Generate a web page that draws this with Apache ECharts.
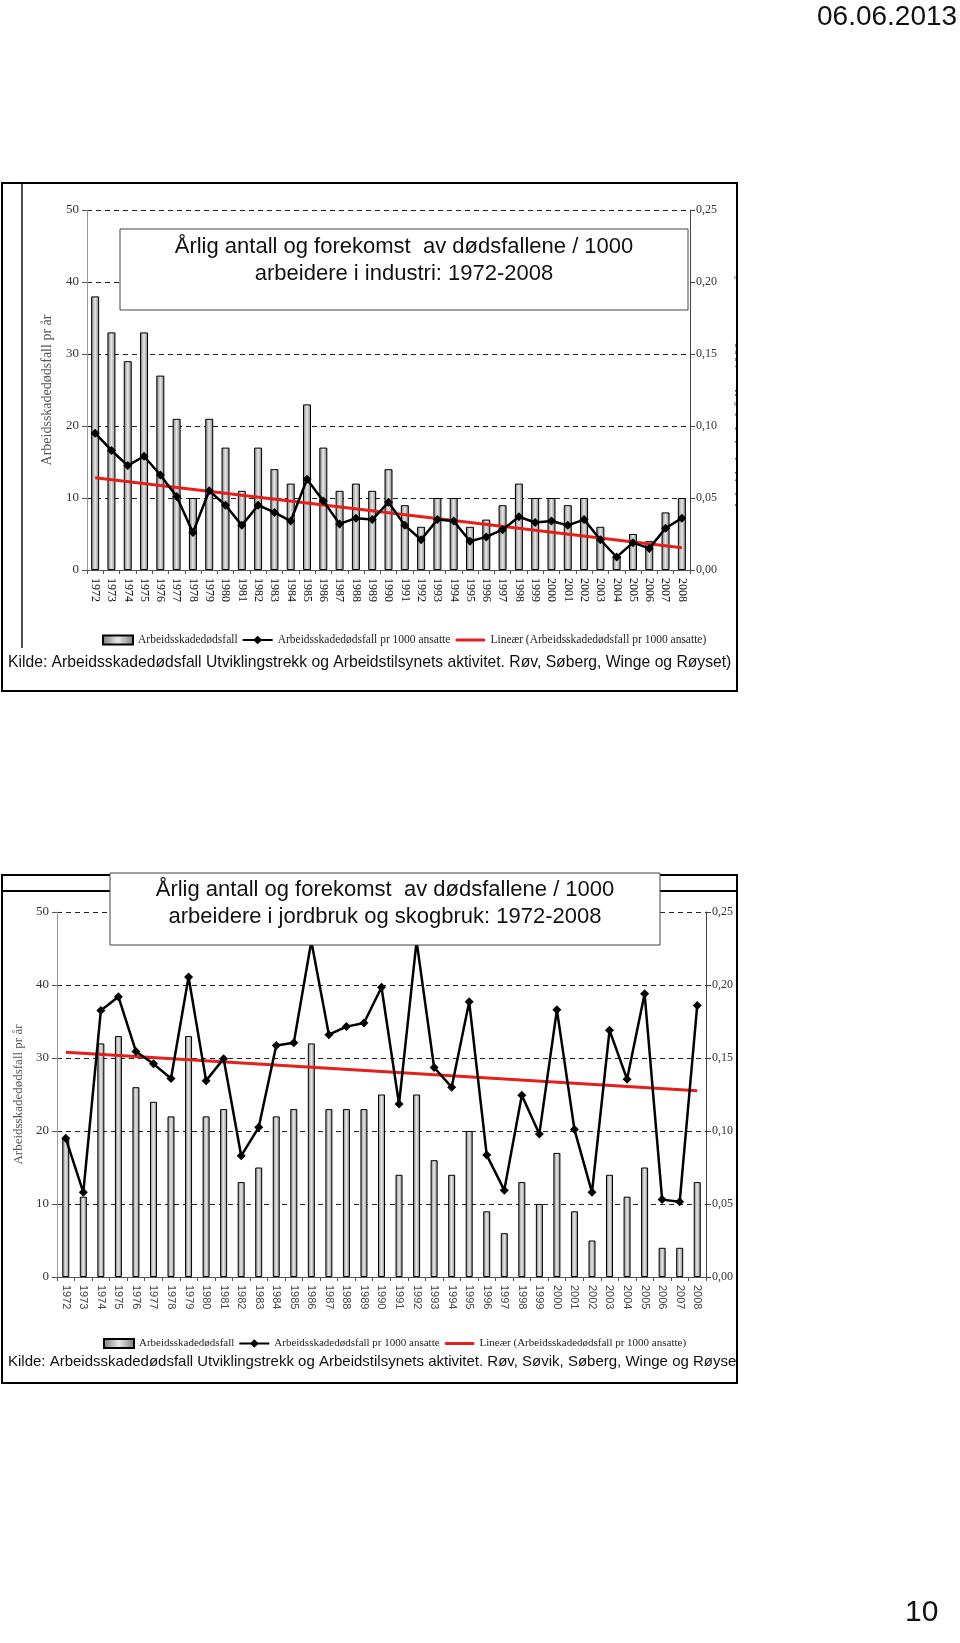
<!DOCTYPE html>
<html><head><meta charset="utf-8">
<script src="https://cdn.jsdelivr.net/npm/echarts@6/dist/echarts.min.js"></script>
<style>html,body{margin:0;padding:0;background:#fff}#c{width:960px;height:1643px}</style>
</head><body><div id="c"></div>
<script>
const years = ['1972','1973','1974','1975','1976','1977','1978','1979','1980','1981','1982','1983','1984','1985','1986','1987','1988','1989','1990','1991','1992','1993','1994','1995','1996','1997','1998','1999','2000','2001','2002','2003','2004','2005','2006','2007','2008'];

// Industri
const industriDeaths = [38,33,29,33,27,21,10,21,17,11,17,14,12,23,17,11,12,11,14,9,6,10,10,6,7,9,12,10,10,9,10,6,2,5,4,8,10];
const industriRate = [0.095,0.083,0.0725,0.079,0.066,0.051,0.026,0.055,0.045,0.031,0.045,0.040,0.034,0.063,0.048,0.032,0.036,0.035,0.047,0.031,0.021,0.035,0.034,0.020,0.023,0.028,0.037,0.033,0.034,0.031,0.035,0.021,0.009,0.019,0.015,0.029,0.036];
const industriTrend = [0.064, 0.0155]; // endpoints 1972, 2008

// Jordbruk og skogbruk
const jordDeaths = [19,11,32,33,26,24,22,33,22,23,13,15,22,23,32,23,23,23,25,14,25,16,14,20,9,6,13,10,17,9,5,14,11,15,4,4,13];
const jordRate = [0.095,0.058,0.1825,0.192,0.1545,0.146,0.136,0.2055,0.1345,0.1495,0.083,0.1025,0.1585,0.1605,0.23,0.166,0.1715,0.174,0.1985,0.1185,0.23,0.1435,0.13,0.1885,0.0835,0.0595,0.1245,0.098,0.183,0.101,0.058,0.169,0.1355,0.194,0.053,0.0515,0.186];
const jordTrend = [0.154, 0.1275];

const leftTicks = {min:0, max:50, interval:10};
const rightTicks = {min:0, max:0.25, interval:0.05};

const nameBar = 'Arbeidsskadedødsfall';
const nameLine = 'Arbeidsskadedødsfall pr 1000 ansatte';
const nameTrend = 'Lineær (Arbeidsskadedødsfall pr 1000 ansatte)';

const SERIF = '"Liberation Serif","DejaVu Serif",serif';
const SANS = '"Liberation Sans",Arial,sans-serif';

function trendData(t){ return years.map((y,i)=> i===0 ? t[0] : (i===years.length-1 ? t[1] : null)); }
const barColor = new echarts.graphic.LinearGradient(0,0,1,0,[
  {offset:0,color:'#7a7a7a'},{offset:0.5,color:'#e8e8e8'},{offset:1,color:'#7a7a7a'}]);
const fmtR = v => v.toFixed(2).replace('.', ',');

const iconLine = 'path://M0,0L0.01,0ZM0,3.4H30V5.6H0ZM15,0.2L19.4,4.5L15,8.8L10.6,4.5ZM0,9L0.01,9Z';
const iconTrend = 'path://M0,0L0.01,0ZM1.5,3H28.5A1.5,1.5,0,0,1,28.5,6H1.5A1.5,1.5,0,0,1,1.5,3ZM0,9L0.01,9Z';

function xAxisCfg(gi, serifLabels){
  return {type:'category', gridIndex:gi, data:years, boundaryGap:true,
    axisLine:{lineStyle:{color:'#555',width:1}},
    axisTick:{show:true, interval:0, length:4, lineStyle:{color:'#555'}},
    axisLabel:{interval:0, rotate:-90, margin:8,
      fontFamily: serifLabels?SERIF:SANS, fontSize: serifLabels?12:11,
      color: serifLabels?'#111':'#444'}};
}
function yLeft(gi, nameGap, fs){
  return {type:'value', gridIndex:gi, min:leftTicks.min, max:leftTicks.max, interval:leftTicks.interval,
    name:'Arbeidsskadedødsfall pr år', nameLocation:'middle', nameRotate:90, nameGap:nameGap,
    nameTextStyle:{fontFamily:SERIF, fontSize:fs, color:'#555'},
    axisLine:{show:true, lineStyle:{color:'#999'}},
    axisTick:{show:true, length:5, lineStyle:{color:'#555'}},
    axisLabel:{fontFamily:SERIF, fontSize:13, color:'#333', margin:8},
    splitLine:{show:true, lineStyle:{color:'#222', type:[5,4], width:1}}};
}
function yRight(gi, withName){
  const a = {type:'value', gridIndex:gi, position:'right', min:rightTicks.min, max:rightTicks.max, interval:rightTicks.interval,
    axisLine:{show:true, lineStyle:{color:'#444'}},
    axisTick:{show:true, length:5, lineStyle:{color:'#444'}},
    axisLabel:{fontFamily:SERIF, fontSize:12, color:'#333', margin:6, formatter:fmtR},
    splitLine:{show:false}};
  if (withName){
    a.name='Arbeidsskadedødsfall pr 1000 ansatte pr år'; a.nameLocation='middle'; a.nameRotate=90; a.nameGap=44;
    a.nameTextStyle={fontFamily:SERIF, fontSize:14, color:'#555'};
  }
  return a;
}
function seriesFor(gi, deaths, rate, trend, bw){
  return [
    {name:nameBar, type:'bar', xAxisIndex:gi, yAxisIndex:gi*2, data:deaths, barWidth:bw,
      itemStyle:{color:barColor, borderColor:'#000', borderWidth:1}, z:2},
    {name:nameLine, type:'line', xAxisIndex:gi, yAxisIndex:gi*2+1, data:rate,
      symbol:'diamond', symbolSize:9, lineStyle:{color:'#000', width:2.5}, itemStyle:{color:'#000'}, z:4},
    {name:nameTrend, type:'line', xAxisIndex:gi, yAxisIndex:gi*2+1, data:trendData(trend), connectNulls:true,
      symbol:'none', lineStyle:{color:'#e3201b', width:3}, itemStyle:{color:'#e3201b'}, z:3}
  ];
}
function legendCfg(left, top, fs, gap){
  return {left:left, top:top, itemWidth:30, itemHeight:9, itemGap:gap, selectedMode:false,
    data:[{name:nameBar, icon:'rect'}, {name:nameLine, icon:iconLine}, {name:nameTrend, icon:iconTrend}],
    textStyle:{fontFamily:SERIF, fontSize:fs, color:'#222'}};
}

const chart = echarts.init(document.getElementById('c'), null, {renderer:'canvas'});
chart.setOption({
  animation:false,
  backgroundColor:'#fff',
  grid:[
    {left:87, top:210, width:603, height:360},
    {left:57, top:912, width:649, height:365}
  ],
  xAxis:[xAxisCfg(0,true), xAxisCfg(1,false)],
  yAxis:[yLeft(0,33,14), yRight(0,true), yLeft(1,27,13), yRight(1,false)],
  legend:[legendCfg(97,629,11.5,5), legendCfg(98,1333,11,5)],
  series:[...seriesFor(0,industriDeaths,industriRate,industriTrend,8), ...seriesFor(1,jordDeaths,jordRate,jordTrend,7)],
  graphic:[
    // date and page number
    {type:'text', left:817, top:3, z:100, style:{text:'06.06.2013', font:'28px '+SANS, fill:'#111'}},
    {type:'text', left:905, top:1598, z:100, style:{text:'10', font:'30px '+SANS, fill:'#111'}},
    // masks clipping text at the frame edge
    {type:'rect', shape:{x:738, y:184, width:222, height:506}, z:90, style:{fill:'#fff'}},
    {type:'rect', shape:{x:738, y:1345, width:222, height:37}, z:90, style:{fill:'#fff'}},
    // top frame
    {type:'rect', shape:{x:2, y:183, width:735, height:508}, z:95, style:{fill:'none', stroke:'#000', lineWidth:2}},
    {type:'line', shape:{x1:22, y1:183, x2:22, y2:648}, z:95, style:{stroke:'#111', lineWidth:1.5}},
    // top title box
    {type:'rect', shape:{x:120, y:229, width:568, height:81}, z:96, style:{fill:'#fff', stroke:'#444', lineWidth:1}},
    {type:'text', x:404, y:247, z:97, style:{text:'Årlig antall og forekomst  av dødsfallene / 1000', font:'22px '+SANS, fill:'#111', textAlign:'center', textVerticalAlign:'middle'}},
    {type:'text', x:404, y:274, z:97, style:{text:'arbeidere i industri: 1972-2008', font:'22px '+SANS, fill:'#111', textAlign:'center', textVerticalAlign:'middle'}},
    {type:'text', x:8, y:663, z:97, style:{text:'Kilde: Arbeidsskadedødsfall Utviklingstrekk og Arbeidstilsynets aktivitet. Røv, Søberg, Winge og Røyset)', font:'15.7px '+SANS, fill:'#111', textVerticalAlign:'middle'}},
    // bottom frame
    {type:'rect', shape:{x:2, y:875, width:735, height:508}, z:95, style:{fill:'none', stroke:'#000', lineWidth:2}},
    {type:'line', shape:{x1:2, y1:891, x2:737, y2:891}, z:95, style:{stroke:'#000', lineWidth:2}},
    // bottom title box
    {type:'rect', shape:{x:110, y:873, width:550, height:72}, z:96, style:{fill:'#fff', stroke:'#444', lineWidth:1}},
    {type:'text', x:385, y:890, z:97, style:{text:'Årlig antall og forekomst  av dødsfallene / 1000', font:'22px '+SANS, fill:'#111', textAlign:'center', textVerticalAlign:'middle'}},
    {type:'text', x:385, y:917, z:97, style:{text:'arbeidere i jordbruk og skogbruk: 1972-2008', font:'22px '+SANS, fill:'#111', textAlign:'center', textVerticalAlign:'middle'}},
    {type:'text', x:8, y:1362, z:89, style:{text:'Kilde: Arbeidsskadedødsfall Utviklingstrekk og Arbeidstilsynets aktivitet. Røv, Søvik, Søberg, Winge og Røyset)', font:'15px '+SANS, fill:'#111', textVerticalAlign:'middle'}}
  ]
});
</script></body></html>
